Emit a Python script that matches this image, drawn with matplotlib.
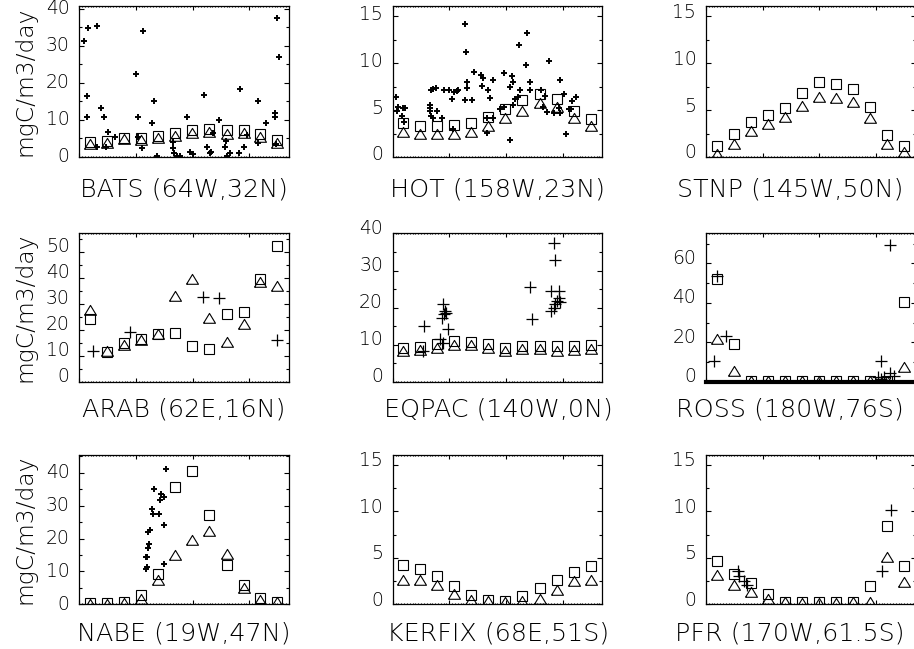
import matplotlib
matplotlib.use('Agg')
import matplotlib.pyplot as plt
from matplotlib.ticker import MultipleLocator, NullFormatter, FixedLocator
from matplotlib.transforms import ScaledTranslation

plt.rcParams['font.family'] = ['DejaVu Sans']
plt.rcParams['font.weight'] = 200

# ---------------- data ----------------
month_day = [19, 49, 79, 109, 139, 169, 199, 229, 260, 290, 320, 350]

bats_sq = [4.0, 4.3, 5.0, 5.2, 5.8, 6.5, 7.3, 7.6, 7.2, 7.3, 6.3, 4.6]
bats_tri = [3.6, 3.9, 4.8, 4.5, 5.0, 5.6, 6.4, 6.8, 6.3, 6.5, 5.5, 3.9]
bats_obs_day = [9, 16, 31, 14, 13, 39, 44, 50, 31, 47, 63, 100, 103, 112, 110, 104,
                132, 128, 137, 165, 166, 167, 172, 178, 191, 196, 200, 220, 225, 230,
                232, 247, 237, 259, 258, 260, 266, 283, 282, 290, 296, 315, 316, 329,
                346, 346, 349, 352, 347]
bats_obs_val = [31.4, 34.8, 35.4, 16.5, 10.7, 13.2, 10.7, 6.8, 2.8, 2.8, 5.5, 22.4, 10.9,
                34.1, 2.3, 5.5, 15.2, 9.1, 0.4, 4.1, 2.3, 1.0, 0.4, 0.4, 10.9, 1.4, 0.8,
                16.8, 2.8, 1.0, 1.4, 10.0, 6.4, 4.4, 2.8, 0.4, 1.0, 18.3, 1.2, 2.8, 5.9,
                15.2, 3.7, 9.1, 11.8, 10.7, 37.5, 27.1, 3.5]

hot_sq = [3.57, 3.29, 3.25, 3.36, 3.57, 4.25, 5.07, 6.07, 6.75, 6.21, 4.89, 4.0]
hot_tri = [2.64, 2.5, 2.5, 2.5, 2.64, 3.29, 4.18, 4.89, 5.71, 5.36, 4.18, 3.29]
hot_obs_day = [6, 10, 19, 21, 7, 16, 20, 65, 66, 65, 67, 79, 72, 68, 72, 77, 87, 90, 100,
               104, 108, 107, 113, 116, 128, 129, 131, 132, 128, 140, 143, 156, 160, 157,
               169, 172, 178, 166, 166, 177, 197, 190, 197, 207, 207, 210, 213, 213, 216,
               222, 223, 225, 235, 238, 242, 243, 262, 269, 266, 272, 276, 284, 296, 293,
               296, 303, 306, 311, 316, 323, 315]
hot_obs_val = [6.43, 5.36, 5.21, 5.2, 4.9, 4.36, 3.7, 5.25, 4.9, 5.5, 4.4, 4.9, 4.2, 7.14,
               7.2, 7.3, 4.18, 7.14, 7.14, 6.14, 6.93, 2.93, 7.0, 7.14, 14.2, 11.2, 8.0,
               7.3, 6.1, 6.1, 9.0, 8.7, 8.46, 7.57, 7.14, 6.3, 8.2, 2.57, 4.18, 4.15, 8.93,
               5.1, 5.3, 1.86, 7.4, 8.57, 8.0, 5.5, 6.14, 6.43, 11.93, 7.14, 9.8, 13.2, 8.0,
               7.14, 7.14, 6.5, 5.36, 4.79, 10.25, 4.7, 8.18, 5.25, 4.7, 6.75, 2.5, 5.07,
               5.96, 6.43, 5.1]

stnp_sq = [1.14, 2.5, 3.75, 4.46, 5.25, 6.8, 7.93, 7.75, 7.21, 5.32, 2.29, 1.14]
stnp_tri = [0.36, 1.43, 2.75, 3.46, 4.29, 5.43, 6.43, 6.32, 5.86, 4.18, 1.43, 0.5]

arab_sq = [24.3, 11.4, 14.8, 16.5, 18.2, 18.7, 13.9, 12.6, 26.2, 26.8, 39.7, 52.4]
arab_tri = [27.5, 11.7, 14.2, 16.1, 18.2, 32.9, 39.5, 24.6, 15.2, 22.3, 38.5, 36.8]
arab_obs_day = [24, 90, 219, 247, 349]
arab_obs_val = [11.7, 19.1, 32.6, 32.4, 15.9]

eqpac_sq = [9.1, 9.3, 10.2, 11.1, 10.7, 10.2, 9.1, 9.5, 9.5, 9.7, 9.5, 10.0]
eqpac_tri = [8.4, 8.6, 9.1, 9.8, 9.8, 9.1, 8.4, 8.9, 8.9, 8.4, 8.6, 8.9]
eqpac_obs_day = [55, 53, 84, 89, 87, 91, 95, 92, 98, 89, 243, 246, 284, 287, 279, 293,
                 284, 287, 290, 293, 279, 296]
eqpac_obs_val = [15.0, 8.2, 11.4, 20.9, 17.3, 18.2, 18.6, 19.1, 14.1, 10.5, 25.5, 16.8,
                 37.3, 32.7, 24.4, 24.5, 20.0, 20.9, 21.8, 22.7, 19.1, 21.5]

ross_sq = [52.1, 19.3, 0.5, 0.5, 0.5, 0.5, 0.5, 0.5, 0.5, 0.5, 0.5, 40.5]
ross_tri = [21.7, 5.5, 0.3, 0.3, 0.3, 0.3, 0.3, 0.3, 0.3, 0.3, 0.3, 7.7]
ross_obs_day = [15, 19, 35, 325, 309, 303, 309, 315, 325, 332]
ross_obs_val = [10.3, 53.8, 23.1, 69.2, 10.6, 2.6, 1.5, 2.6, 4.3, 3.1]

nabe_sq = [0.3, 0.3, 0.6, 2.9, 9.3, 35.7, 40.6, 27.3, 12.1, 5.8, 1.9, 0.8]
nabe_tri = [0.2, 0.2, 0.4, 1.7, 7.5, 14.9, 19.7, 22.3, 15.4, 5.0, 1.4, 0.7]
nabe_obs_day = [117, 120, 117, 120, 122, 123, 122, 125, 128, 131, 132, 141, 143, 145,
                150, 150, 150, 153]
nabe_obs_val = [10.8, 11.3, 14.5, 14.3, 17.2, 18.4, 22.0, 22.7, 29.0, 27.5, 35.2, 27.5,
                31.7, 33.5, 32.7, 24.1, 12.4, 41.0]

kerfix_sq = [4.25, 3.79, 3.07, 2.0, 1.04, 0.5, 0.39, 0.86, 1.75, 2.57, 3.43, 4.14]
kerfix_tri = [2.64, 2.64, 2.1, 1.14, 0.5, 0.32, 0.25, 0.32, 0.57, 1.57, 2.46, 2.64]

pfr_sq = [4.68, 3.25, 2.29, 1.1, 0.21, 0.21, 0.21, 0.21, 0.29, 2.0, 8.43, 4.14]
pfr_tri = [3.18, 2.1, 1.29, 0.57, 0.2, 0.15, 0.15, 0.15, 0.2, 0.3, 5.14, 2.36]
pfr_obs_day = [57, 58, 67, 73, 310, 326]
pfr_obs_val = [3.54, 3.0, 2.46, 2.1, 3.54, 10.14]

titles = ['BATS (64W,32N)', 'HOT (158W,23N)', 'STNP (145W,50N)',
          'ARAB (62E,16N)', 'EQPAC (140W,0N)', 'ROSS (180W,76S)',
          'NABE (19W,47N)', 'KERFIX (68E,51S)', 'PFR (170W,61.5S)']
ytick_vals = [[0, 10, 20, 30, 40], [0, 5, 10, 15], [0, 5, 10, 15],
              [0, 10, 20, 30, 40, 50], [0, 10, 20, 30, 40], [0, 20, 40, 60],
              [0, 10, 20, 30, 40], [0, 5, 10, 15], [0, 5, 10, 15]]
ylabel_text = 'mgC/m3/day'

panels = [
    (bats_sq, bats_tri, bats_obs_day, bats_obs_val),
    (hot_sq, hot_tri, hot_obs_day, hot_obs_val),
    (stnp_sq, stnp_tri, [], []),
    (arab_sq, arab_tri, arab_obs_day, arab_obs_val),
    (eqpac_sq, eqpac_tri, eqpac_obs_day, eqpac_obs_val),
    (ross_sq, ross_tri, ross_obs_day, ross_obs_val),
    (nabe_sq, nabe_tri, nabe_obs_day, nabe_obs_val),
    (kerfix_sq, kerfix_tri, [], []),
    (pfr_sq, pfr_tri, pfr_obs_day, pfr_obs_val),
]

# ---------------- layout / style ----------------
W, H = 914, 649
fig = plt.figure(figsize=(W / 100, H / 100), dpi=100)

row_top = [6, 232.7, 455]
row_bot = [157, 381.7, 604.3]
col_left = [79.3, 392.7, 706]
ax_w = 209.5
title_x = [184, 498, 790]
title_y = [189, 410, 634]

ymax = [40.8, 16.07, 16.07, 57.4, 40.2, 75.6, 45.4, 16.07, 16.07]
ystep = [10, 5, 5, 10, 10, 20, 10, 5, 5]
zero_shift = [2, 4, 6, 7, 7, 7, 2, 6, 6]        # px, upward nudge of "0" label
top_shift = [7, 0, 0, 0, 7, 0, 0, 0, 0]         # px, downward nudge of top label
cross_style = ['small', 'small', 'small', 'large', 'large', 'large', 'medium', 'large', 'large']
cross_ms = {'small': 4.3, 'medium': 5.0, 'large': 8.6}
cross_mew = {'small': 1.4, 'medium': 1.4, 'large': 0.9}

tri_marker = [(-1, -0.8), (1, -0.8), (0, 0.85), (-1, -0.8)]

for k, (sq, tri, od, ov) in enumerate(panels):
    r, c = divmod(k, 3)
    left = col_left[c] / W
    bottom = 1 - row_bot[r] / H
    height = (row_bot[r] - row_top[r]) / H
    ax = fig.add_axes([left, bottom, ax_w / W, height])

    ax.plot(month_day, sq, linestyle='none', marker='s', ms=7.2, mfc='none',
            mec='black', mew=0.8)
    ax.plot(month_day, tri, linestyle='none', marker=tri_marker, ms=8.6, mfc='none',
            mec='black', mew=0.8)
    if len(od):
        st = cross_style[k]
        ax.plot(od, ov, linestyle='none', marker='+', ms=cross_ms[st], mec='black',
                mew=cross_mew[st])

    ax.set_xlim(0, 370)
    ax.set_ylim(0, ymax[k])
    ax.xaxis.set_major_locator(MultipleLocator(100))
    ax.xaxis.set_minor_locator(MultipleLocator(5))
    ax.xaxis.set_major_formatter(NullFormatter())
    ax.yaxis.set_major_locator(FixedLocator(ytick_vals[k]))
    ax.yaxis.set_minor_locator(MultipleLocator(ystep[k] / 2))
    ax.tick_params(axis='both', which='both', direction='in', top=True, right=True,
                   color='black')
    ax.tick_params(axis='x', which='major', length=2.6, width=0.8)
    ax.tick_params(axis='x', which='minor', length=1.0, width=0.8)
    ax.tick_params(axis='y', which='major', length=3.8, width=0.8, labelsize=13.5, pad=7)
    ax.tick_params(axis='y', which='minor', length=2.0, width=0.8)
    for sp in ax.spines.values():
        sp.set_linewidth(0.9)
    if k == 5:
        ax.spines['bottom'].set_linewidth(3.0)

    for t in ax.yaxis.get_major_ticks():
        loc = t.get_loc()
        dy = 0
        if loc == 0:
            dy = zero_shift[k]
        elif loc == ytick_vals[k][-1]:
            dy = -top_shift[k]
        if dy:
            t.label1.set_transform(t.label1.get_transform() +
                                   ScaledTranslation(0, dy / 100, fig.dpi_scale_trans))

    fig.text(title_x[c] / W, 1 - title_y[r] / H, titles[k], ha='center', va='center',
             fontsize=18.3)
    if c == 0:
        fig.text(25 / W, 1 - (row_top[r] + row_bot[r]) / 2 / H, ylabel_text,
                 rotation=90, ha='center', va='center', fontsize=16.8)

fig.savefig('out.png', dpi=100)
